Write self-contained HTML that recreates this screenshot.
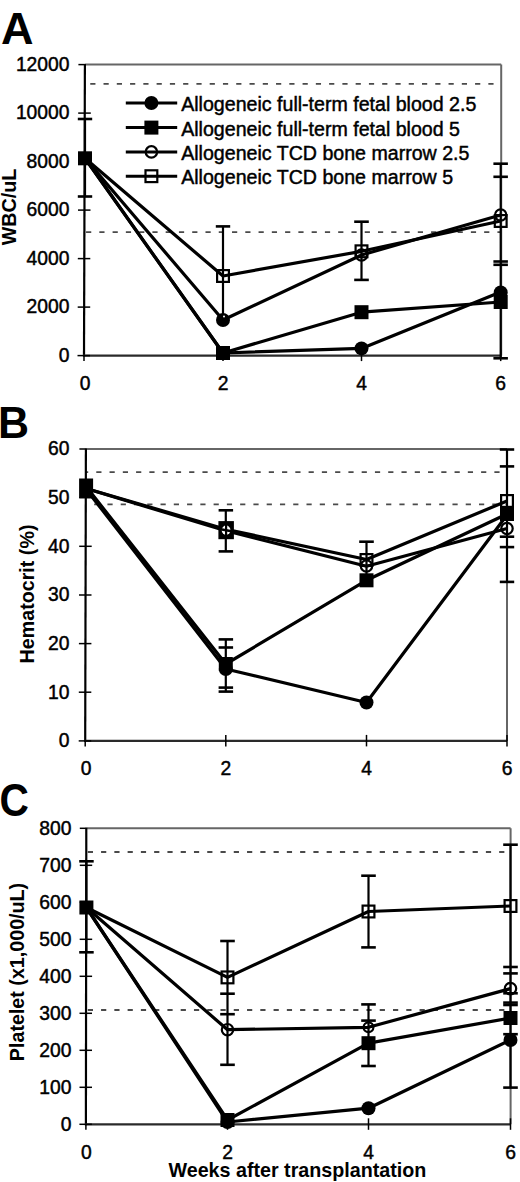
<!DOCTYPE html>
<html><head><meta charset="utf-8"><style>
html,body{margin:0;padding:0;background:#fff;width:520px;height:1182px;overflow:hidden}
svg{display:block;font-family:"Liberation Sans", sans-serif}
</style></head><body>
<svg width="520" height="1182" viewBox="0 0 520 1182" font-family='"Liberation Sans", sans-serif'>
<rect width="520" height="1182" fill="#fff"/>
<line x1="84.5" y1="83.8" x2="500.2" y2="83.8" stroke="#4a4a4a" stroke-width="1.8" stroke-dasharray="5.2,8.07" stroke-dashoffset="7.52"/>
<line x1="84.5" y1="232.2" x2="500.2" y2="232.2" stroke="#4a4a4a" stroke-width="1.8" stroke-dasharray="5.2,8.07" stroke-dashoffset="11.72"/>
<line x1="84.9" y1="64.6" x2="501.2" y2="64.6" stroke="#666" stroke-width="2" />
<line x1="501.2" y1="64.6" x2="501.2" y2="355.6" stroke="#666" stroke-width="2" />
<line x1="84.9" y1="64.1" x2="84.0" y2="356.6" stroke="#000" stroke-width="2.2" />
<line x1="83.0" y1="355.6" x2="501.2" y2="355.6" stroke="#2a2a2a" stroke-width="2.2" />
<line x1="77.5" y1="355.6" x2="90.0" y2="355.6" stroke="#000" stroke-width="1.5" />
<text x="69.5" y="361.9" font-size="19.3" text-anchor="end" font-weight="normal"  stroke="#000" stroke-width="0.45">0</text>
<line x1="77.7" y1="307.1" x2="90.2" y2="307.1" stroke="#000" stroke-width="1.5" />
<text x="69.5" y="313.4" font-size="19.3" text-anchor="end" font-weight="normal"  stroke="#000" stroke-width="0.45">2000</text>
<line x1="77.8" y1="258.6" x2="90.3" y2="258.6" stroke="#000" stroke-width="1.5" />
<text x="69.5" y="264.9" font-size="19.3" text-anchor="end" font-weight="normal"  stroke="#000" stroke-width="0.45">4000</text>
<line x1="78.0" y1="210.1" x2="90.5" y2="210.1" stroke="#000" stroke-width="1.5" />
<text x="69.5" y="216.4" font-size="19.3" text-anchor="end" font-weight="normal"  stroke="#000" stroke-width="0.45">6000</text>
<line x1="78.1" y1="161.6" x2="90.6" y2="161.6" stroke="#000" stroke-width="1.5" />
<text x="69.5" y="167.9" font-size="19.3" text-anchor="end" font-weight="normal"  stroke="#000" stroke-width="0.45">8000</text>
<line x1="78.2" y1="113.1" x2="90.8" y2="113.1" stroke="#000" stroke-width="1.5" />
<text x="69.5" y="119.4" font-size="19.3" text-anchor="end" font-weight="normal"  stroke="#000" stroke-width="0.45">10000</text>
<line x1="78.4" y1="64.6" x2="84.9" y2="64.6" stroke="#000" stroke-width="1.5" />
<text x="69.5" y="70.9" font-size="19.3" text-anchor="end" font-weight="normal"  stroke="#000" stroke-width="0.45">12000</text>
<line x1="84.0" y1="355.6" x2="84.0" y2="361.1" stroke="#000" stroke-width="1.5" />
<text x="85.0" y="389.9" font-size="19.3" text-anchor="middle" font-weight="normal"  stroke="#000" stroke-width="0.45">0</text>
<line x1="223.0" y1="349.6" x2="223.0" y2="361.1" stroke="#000" stroke-width="1.5" />
<text x="223.0" y="389.9" font-size="19.3" text-anchor="middle" font-weight="normal"  stroke="#000" stroke-width="0.45">2</text>
<line x1="361.5" y1="349.6" x2="361.5" y2="361.1" stroke="#000" stroke-width="1.5" />
<text x="361.5" y="389.9" font-size="19.3" text-anchor="middle" font-weight="normal"  stroke="#000" stroke-width="0.45">4</text>
<line x1="500.7" y1="349.6" x2="500.7" y2="361.1" stroke="#000" stroke-width="1.5" />
<text x="500.7" y="389.9" font-size="19.3" text-anchor="middle" font-weight="normal"  stroke="#000" stroke-width="0.45">6</text>
<line x1="85.5" y1="472.2" x2="506.0" y2="472.2" stroke="#4a4a4a" stroke-width="1.8" stroke-dasharray="5.2,8.07" stroke-dashoffset="2.50"/>
<line x1="85.5" y1="504.3" x2="506.0" y2="504.3" stroke="#4a4a4a" stroke-width="1.8" stroke-dasharray="5.2,8.07" stroke-dashoffset="4.60"/>
<line x1="85.9" y1="449.0" x2="507.0" y2="449.0" stroke="#666" stroke-width="2" />
<line x1="507.0" y1="449.0" x2="507.0" y2="740.9" stroke="#666" stroke-width="2" />
<line x1="85.9" y1="448.5" x2="85.2" y2="741.9" stroke="#000" stroke-width="2.2" />
<line x1="84.2" y1="740.9" x2="507.0" y2="740.9" stroke="#2a2a2a" stroke-width="2.2" />
<line x1="78.7" y1="740.9" x2="91.2" y2="740.9" stroke="#000" stroke-width="1.5" />
<text x="69.5" y="747.2" font-size="19.3" text-anchor="end" font-weight="normal"  stroke="#000" stroke-width="0.45">0</text>
<line x1="78.8" y1="692.2" x2="91.3" y2="692.2" stroke="#000" stroke-width="1.5" />
<text x="69.5" y="698.5" font-size="19.3" text-anchor="end" font-weight="normal"  stroke="#000" stroke-width="0.45">10</text>
<line x1="78.9" y1="643.6" x2="91.4" y2="643.6" stroke="#000" stroke-width="1.5" />
<text x="69.5" y="649.9" font-size="19.3" text-anchor="end" font-weight="normal"  stroke="#000" stroke-width="0.45">20</text>
<line x1="79.0" y1="595.0" x2="91.5" y2="595.0" stroke="#000" stroke-width="1.5" />
<text x="69.5" y="601.2" font-size="19.3" text-anchor="end" font-weight="normal"  stroke="#000" stroke-width="0.45">30</text>
<line x1="79.2" y1="546.3" x2="91.7" y2="546.3" stroke="#000" stroke-width="1.5" />
<text x="69.5" y="552.6" font-size="19.3" text-anchor="end" font-weight="normal"  stroke="#000" stroke-width="0.45">40</text>
<line x1="79.3" y1="497.6" x2="91.8" y2="497.6" stroke="#000" stroke-width="1.5" />
<text x="69.5" y="503.9" font-size="19.3" text-anchor="end" font-weight="normal"  stroke="#000" stroke-width="0.45">50</text>
<line x1="79.4" y1="449.0" x2="85.9" y2="449.0" stroke="#000" stroke-width="1.5" />
<text x="69.5" y="455.3" font-size="19.3" text-anchor="end" font-weight="normal"  stroke="#000" stroke-width="0.45">60</text>
<line x1="85.2" y1="740.9" x2="85.2" y2="746.4" stroke="#000" stroke-width="1.5" />
<text x="86.1" y="775.2" font-size="19.3" text-anchor="middle" font-weight="normal"  stroke="#000" stroke-width="0.45">0</text>
<line x1="225.8" y1="734.9" x2="225.8" y2="746.4" stroke="#000" stroke-width="1.5" />
<text x="225.8" y="775.2" font-size="19.3" text-anchor="middle" font-weight="normal"  stroke="#000" stroke-width="0.45">2</text>
<line x1="366.5" y1="734.9" x2="366.5" y2="746.4" stroke="#000" stroke-width="1.5" />
<text x="366.5" y="775.2" font-size="19.3" text-anchor="middle" font-weight="normal"  stroke="#000" stroke-width="0.45">4</text>
<line x1="507.0" y1="734.9" x2="507.0" y2="746.4" stroke="#000" stroke-width="1.5" />
<text x="507.0" y="775.2" font-size="19.3" text-anchor="middle" font-weight="normal"  stroke="#000" stroke-width="0.45">6</text>
<line x1="86.1" y1="852.0" x2="509.6" y2="852.0" stroke="#4a4a4a" stroke-width="1.8" stroke-dasharray="5.2,8.07" stroke-dashoffset="11.57"/>
<line x1="86.1" y1="1010.0" x2="509.6" y2="1010.0" stroke="#4a4a4a" stroke-width="1.8" stroke-dasharray="5.2,8.07" stroke-dashoffset="11.57"/>
<line x1="86.3" y1="828.3" x2="510.6" y2="828.3" stroke="#666" stroke-width="2" />
<line x1="510.6" y1="828.3" x2="510.6" y2="1124.3" stroke="#666" stroke-width="2" />
<line x1="86.3" y1="827.8" x2="85.9" y2="1125.3" stroke="#000" stroke-width="2.2" />
<line x1="84.9" y1="1124.3" x2="510.6" y2="1124.3" stroke="#2a2a2a" stroke-width="2.2" />
<line x1="79.4" y1="1124.3" x2="91.9" y2="1124.3" stroke="#000" stroke-width="1.5" />
<text x="71.5" y="1130.6" font-size="19.3" text-anchor="end" font-weight="normal"  stroke="#000" stroke-width="0.45">0</text>
<line x1="79.5" y1="1087.3" x2="92.0" y2="1087.3" stroke="#000" stroke-width="1.5" />
<text x="71.5" y="1093.6" font-size="19.3" text-anchor="end" font-weight="normal"  stroke="#000" stroke-width="0.45">100</text>
<line x1="79.5" y1="1050.3" x2="92.0" y2="1050.3" stroke="#000" stroke-width="1.5" />
<text x="71.5" y="1056.6" font-size="19.3" text-anchor="end" font-weight="normal"  stroke="#000" stroke-width="0.45">200</text>
<line x1="79.5" y1="1013.3" x2="92.0" y2="1013.3" stroke="#000" stroke-width="1.5" />
<text x="71.5" y="1019.6" font-size="19.3" text-anchor="end" font-weight="normal"  stroke="#000" stroke-width="0.45">300</text>
<line x1="79.6" y1="976.3" x2="92.1" y2="976.3" stroke="#000" stroke-width="1.5" />
<text x="71.5" y="982.6" font-size="19.3" text-anchor="end" font-weight="normal"  stroke="#000" stroke-width="0.45">400</text>
<line x1="79.7" y1="939.3" x2="92.2" y2="939.3" stroke="#000" stroke-width="1.5" />
<text x="71.5" y="945.6" font-size="19.3" text-anchor="end" font-weight="normal"  stroke="#000" stroke-width="0.45">500</text>
<line x1="79.7" y1="902.3" x2="92.2" y2="902.3" stroke="#000" stroke-width="1.5" />
<text x="71.5" y="908.6" font-size="19.3" text-anchor="end" font-weight="normal"  stroke="#000" stroke-width="0.45">600</text>
<line x1="79.8" y1="865.3" x2="92.2" y2="865.3" stroke="#000" stroke-width="1.5" />
<text x="71.5" y="871.6" font-size="19.3" text-anchor="end" font-weight="normal"  stroke="#000" stroke-width="0.45">700</text>
<line x1="79.8" y1="828.3" x2="86.3" y2="828.3" stroke="#000" stroke-width="1.5" />
<text x="71.5" y="834.6" font-size="19.3" text-anchor="end" font-weight="normal"  stroke="#000" stroke-width="0.45">800</text>
<line x1="85.9" y1="1124.3" x2="85.9" y2="1129.8" stroke="#000" stroke-width="1.5" />
<text x="86.4" y="1158.6" font-size="19.3" text-anchor="middle" font-weight="normal"  stroke="#000" stroke-width="0.45">0</text>
<line x1="227.5" y1="1118.3" x2="227.5" y2="1129.8" stroke="#000" stroke-width="1.5" />
<text x="227.5" y="1158.6" font-size="19.3" text-anchor="middle" font-weight="normal"  stroke="#000" stroke-width="0.45">2</text>
<line x1="368.5" y1="1118.3" x2="368.5" y2="1129.8" stroke="#000" stroke-width="1.5" />
<text x="368.5" y="1158.6" font-size="19.3" text-anchor="middle" font-weight="normal"  stroke="#000" stroke-width="0.45">4</text>
<line x1="510.5" y1="1118.3" x2="510.5" y2="1129.8" stroke="#000" stroke-width="1.5" />
<text x="510.5" y="1158.6" font-size="19.3" text-anchor="middle" font-weight="normal"  stroke="#000" stroke-width="0.45">6</text>
<text transform="translate(0.9,44.4) scale(0.98,0.97)" font-size="46" font-weight="bold">A</text>
<text transform="translate(-2.0,438.2) scale(0.935,0.965)" font-size="46" font-weight="bold">B</text>
<text transform="translate(-0.5,816.4) scale(0.885,1)" font-size="46" font-weight="bold">C</text>
<text transform="translate(16.3,207) rotate(-90)" font-size="19.7" font-weight="bold" text-anchor="middle">WBC/uL</text>
<text transform="translate(33.8,594) rotate(-90)" font-size="19.7" font-weight="bold" text-anchor="middle">Hematocrit (%)</text>
<text transform="translate(24,972) rotate(-90)" font-size="19.7" font-weight="bold" text-anchor="middle">Platelet (x1,000/uL)</text>
<text x="297.4" y="1177.1" font-size="19.7" text-anchor="middle" font-weight="bold" >Weeks after transplantation</text>
<line x1="125.8" y1="103.0" x2="177.2" y2="103.0" stroke="#000" stroke-width="3" />
<circle cx="151.4" cy="103.0" r="7.0" fill="#000"/>
<text x="181.2" y="111.0" font-size="19.6" text-anchor="start" font-weight="normal"  stroke="#000" stroke-width="0.45">Allogeneic full-term fetal blood 2.5</text>
<line x1="125.8" y1="127.6" x2="177.2" y2="127.6" stroke="#000" stroke-width="3" />
<rect x="144.4" y="120.6" width="14" height="14" fill="#000"/>
<text x="181.2" y="135.6" font-size="19.6" text-anchor="start" font-weight="normal"  stroke="#000" stroke-width="0.45">Allogeneic full-term fetal blood 5</text>
<line x1="125.8" y1="151.9" x2="177.2" y2="151.9" stroke="#000" stroke-width="3" />
<circle cx="151.4" cy="151.9" r="5.7" fill="none" stroke="#000" stroke-width="2.2"/>
<text x="181.2" y="159.9" font-size="19.6" text-anchor="start" font-weight="normal"  stroke="#000" stroke-width="0.45">Allogeneic TCD bone marrow 2.5</text>
<line x1="125.8" y1="176.2" x2="177.2" y2="176.2" stroke="#000" stroke-width="3" />
<rect x="145.5" y="170.3" width="11.8" height="11.8" fill="none" stroke="#000" stroke-width="2.2"/>
<text x="181.2" y="184.2" font-size="19.6" text-anchor="start" font-weight="normal"  stroke="#000" stroke-width="0.45">Allogeneic TCD bone marrow 5</text>
<polyline points="85.0,158.3 223.0,353.0 361.5,348.4 500.7,292.0" fill="none" stroke="#000" stroke-width="3.2" stroke-linejoin="round"/>
<polyline points="85.0,158.3 223.0,353.0 361.5,312.2 500.7,302.0" fill="none" stroke="#000" stroke-width="3.2" stroke-linejoin="round"/>
<polyline points="85.0,158.3 223.0,320.0 361.5,255.0 500.7,215.0" fill="none" stroke="#000" stroke-width="3.2" stroke-linejoin="round"/>
<polyline points="85.0,158.3 223.0,276.0 361.5,251.3 500.7,221.0" fill="none" stroke="#000" stroke-width="3.2" stroke-linejoin="round"/>
<line x1="85.0" y1="119.0" x2="85.0" y2="196.5" stroke="#000" stroke-width="2.2" />
<line x1="77.8" y1="119.0" x2="92.2" y2="119.0" stroke="#000" stroke-width="2.6" />
<line x1="77.8" y1="196.5" x2="92.2" y2="196.5" stroke="#000" stroke-width="2.6" />
<line x1="223.0" y1="226.4" x2="223.0" y2="320.0" stroke="#000" stroke-width="2.2" />
<line x1="215.8" y1="226.4" x2="230.2" y2="226.4" stroke="#000" stroke-width="2.6" />
<line x1="361.5" y1="221.7" x2="361.5" y2="279.9" stroke="#000" stroke-width="2.2" />
<line x1="354.2" y1="221.7" x2="368.8" y2="221.7" stroke="#000" stroke-width="2.6" />
<line x1="354.2" y1="279.9" x2="368.8" y2="279.9" stroke="#000" stroke-width="2.6" />
<line x1="500.7" y1="163.7" x2="500.7" y2="358.3" stroke="#000" stroke-width="2.2" />
<line x1="493.4" y1="163.7" x2="507.9" y2="163.7" stroke="#000" stroke-width="2.6" />
<line x1="493.4" y1="176.8" x2="507.9" y2="176.8" stroke="#000" stroke-width="2.6" />
<line x1="493.4" y1="261.5" x2="507.9" y2="261.5" stroke="#000" stroke-width="2.6" />
<line x1="493.4" y1="264.8" x2="507.9" y2="264.8" stroke="#000" stroke-width="2.6" />
<line x1="493.4" y1="358.3" x2="507.9" y2="358.3" stroke="#000" stroke-width="2.6" />
<rect x="78.0" y="151.3" width="14" height="14" fill="#000"/>
<circle cx="223.0" cy="320.0" r="7.0" fill="#000"/>
<circle cx="224.0" cy="316.5" r="1" fill="#fff"/>
<rect x="216.0" y="346.0" width="14" height="14" fill="#000"/>
<rect x="217.1" y="270.1" width="11.8" height="11.8" fill="none" stroke="#000" stroke-width="2.2"/>
<rect x="355.6" y="245.4" width="11.8" height="11.8" fill="none" stroke="#000" stroke-width="2.2"/>
<circle cx="361.5" cy="255.0" r="5.7" fill="none" stroke="#000" stroke-width="2.2"/>
<rect x="354.5" y="305.2" width="14" height="14" fill="#000"/>
<circle cx="361.5" cy="348.4" r="7.0" fill="#000"/>
<circle cx="500.7" cy="215.0" r="5.7" fill="none" stroke="#000" stroke-width="2.2"/>
<rect x="494.8" y="215.1" width="11.8" height="11.8" fill="none" stroke="#000" stroke-width="2.2"/>
<circle cx="500.7" cy="292.5" r="7.0" fill="#000"/>
<rect x="493.7" y="295.0" width="14" height="14" fill="#000"/>
<polyline points="86.1,489.2 225.8,669.0 366.5,702.5 507.0,515.0" fill="none" stroke="#000" stroke-width="3.2" stroke-linejoin="round"/>
<polyline points="86.1,486.6 225.8,664.0 366.5,580.3 507.0,514.0" fill="none" stroke="#000" stroke-width="3.2" stroke-linejoin="round"/>
<polyline points="86.1,488.5 225.8,530.8 366.5,566.3 507.0,528.5" fill="none" stroke="#000" stroke-width="3.2" stroke-linejoin="round"/>
<polyline points="86.1,488.5 225.8,529.2 366.5,559.5 507.0,501.0" fill="none" stroke="#000" stroke-width="3.2" stroke-linejoin="round"/>
<line x1="225.8" y1="510.3" x2="225.8" y2="551.4" stroke="#000" stroke-width="2.2" />
<line x1="218.6" y1="510.3" x2="233.1" y2="510.3" stroke="#000" stroke-width="2.6" />
<line x1="218.6" y1="551.4" x2="233.1" y2="551.4" stroke="#000" stroke-width="2.6" />
<line x1="225.8" y1="639.4" x2="225.8" y2="691.6" stroke="#000" stroke-width="2.2" />
<line x1="218.6" y1="639.4" x2="233.1" y2="639.4" stroke="#000" stroke-width="2.6" />
<line x1="218.6" y1="647.5" x2="233.1" y2="647.5" stroke="#000" stroke-width="2.6" />
<line x1="218.6" y1="687.6" x2="233.1" y2="687.6" stroke="#000" stroke-width="2.6" />
<line x1="218.6" y1="691.6" x2="233.1" y2="691.6" stroke="#000" stroke-width="2.6" />
<line x1="366.5" y1="541.7" x2="366.5" y2="580.0" stroke="#000" stroke-width="2.2" />
<line x1="359.2" y1="541.7" x2="373.8" y2="541.7" stroke="#000" stroke-width="2.6" />
<line x1="507.0" y1="449.5" x2="507.0" y2="582.0" stroke="#000" stroke-width="2.2" />
<line x1="499.8" y1="449.5" x2="514.2" y2="449.5" stroke="#000" stroke-width="2.6" />
<line x1="499.8" y1="466.4" x2="514.2" y2="466.4" stroke="#000" stroke-width="2.6" />
<line x1="499.8" y1="536.7" x2="514.2" y2="536.7" stroke="#000" stroke-width="2.6" />
<line x1="499.8" y1="547.1" x2="514.2" y2="547.1" stroke="#000" stroke-width="2.6" />
<line x1="499.8" y1="581.9" x2="514.2" y2="581.9" stroke="#000" stroke-width="2.6" />
<rect x="79.1" y="478.5" width="14" height="19.7" fill="#000"/>
<rect x="218.4" y="521.1" width="15.5" height="18.1" fill="#000"/>
<ellipse cx="226.1" cy="530.2" rx="4.4" ry="4.6" fill="#fff"/>
<line x1="226.1" y1="524.0" x2="226.1" y2="537.0" stroke="#000" stroke-width="2.2" />
<line x1="220.5" y1="529.3" x2="231.7" y2="531.3" stroke="#000" stroke-width="2.6" />
<rect x="218.8" y="657.0" width="14" height="14" fill="#000"/>
<circle cx="225.8" cy="669.0" r="7.0" fill="#000"/>
<rect x="360.6" y="554.1" width="11.8" height="11.8" fill="none" stroke="#000" stroke-width="2.2"/>
<circle cx="366.5" cy="566.0" r="5.7" fill="none" stroke="#000" stroke-width="2.2"/>
<rect x="359.5" y="573.3" width="14" height="14" fill="#000"/>
<circle cx="366.5" cy="702.5" r="7.0" fill="#000"/>
<rect x="501.1" y="495.1" width="11.8" height="11.8" fill="none" stroke="#000" stroke-width="2.2"/>
<rect x="500.0" y="507.0" width="14" height="14" fill="#000"/>
<circle cx="507.0" cy="528.5" r="5.7" fill="none" stroke="#000" stroke-width="2.2"/>
<polyline points="86.4,907.5 227.5,1122.0 368.5,1108.2 510.5,1040.0" fill="none" stroke="#000" stroke-width="3.2" stroke-linejoin="round"/>
<polyline points="86.4,907.5 227.5,1120.0 368.5,1043.2 510.5,1018.0" fill="none" stroke="#000" stroke-width="3.2" stroke-linejoin="round"/>
<polyline points="86.4,907.5 227.5,1029.7 368.5,1027.3 510.5,988.6" fill="none" stroke="#000" stroke-width="3.2" stroke-linejoin="round"/>
<polyline points="86.4,907.5 227.5,977.4 368.5,911.5 510.5,906.0" fill="none" stroke="#000" stroke-width="3.2" stroke-linejoin="round"/>
<line x1="86.4" y1="861.3" x2="86.4" y2="952.3" stroke="#000" stroke-width="2.2" />
<line x1="79.2" y1="861.3" x2="93.7" y2="861.3" stroke="#000" stroke-width="2.6" />
<line x1="79.2" y1="952.3" x2="93.7" y2="952.3" stroke="#000" stroke-width="2.6" />
<line x1="227.5" y1="941.0" x2="227.5" y2="1064.8" stroke="#000" stroke-width="2.2" />
<line x1="220.2" y1="941.0" x2="234.8" y2="941.0" stroke="#000" stroke-width="2.6" />
<line x1="220.2" y1="993.7" x2="234.8" y2="993.7" stroke="#000" stroke-width="2.6" />
<line x1="220.2" y1="1014.2" x2="234.8" y2="1014.2" stroke="#000" stroke-width="2.6" />
<line x1="220.2" y1="1064.8" x2="234.8" y2="1064.8" stroke="#000" stroke-width="2.6" />
<line x1="368.5" y1="875.7" x2="368.5" y2="947.4" stroke="#000" stroke-width="2.2" />
<line x1="361.2" y1="875.7" x2="375.8" y2="875.7" stroke="#000" stroke-width="2.6" />
<line x1="361.2" y1="947.4" x2="375.8" y2="947.4" stroke="#000" stroke-width="2.6" />
<line x1="368.5" y1="1004.4" x2="368.5" y2="1066.0" stroke="#000" stroke-width="2.2" />
<line x1="361.2" y1="1004.4" x2="375.8" y2="1004.4" stroke="#000" stroke-width="2.6" />
<line x1="361.2" y1="1020.6" x2="375.8" y2="1020.6" stroke="#000" stroke-width="2.6" />
<line x1="361.2" y1="1066.0" x2="375.8" y2="1066.0" stroke="#000" stroke-width="2.6" />
<line x1="510.5" y1="844.7" x2="510.5" y2="1087.6" stroke="#000" stroke-width="2.2" />
<line x1="503.2" y1="844.7" x2="517.8" y2="844.7" stroke="#000" stroke-width="2.6" />
<line x1="503.2" y1="967.0" x2="517.8" y2="967.0" stroke="#000" stroke-width="2.6" />
<line x1="503.2" y1="973.4" x2="517.8" y2="973.4" stroke="#000" stroke-width="2.6" />
<line x1="503.2" y1="993.3" x2="517.8" y2="993.3" stroke="#000" stroke-width="2.6" />
<line x1="503.2" y1="1002.6" x2="517.8" y2="1002.6" stroke="#000" stroke-width="2.6" />
<line x1="503.2" y1="1005.0" x2="517.8" y2="1005.0" stroke="#000" stroke-width="2.6" />
<line x1="503.2" y1="1034.2" x2="517.8" y2="1034.2" stroke="#000" stroke-width="2.6" />
<line x1="503.2" y1="1087.6" x2="517.8" y2="1087.6" stroke="#000" stroke-width="2.6" />
<rect x="79.4" y="900.5" width="14" height="14" fill="#000"/>
<rect x="221.6" y="971.5" width="11.8" height="11.8" fill="none" stroke="#000" stroke-width="2.2"/>
<circle cx="227.5" cy="1029.7" r="5.7" fill="none" stroke="#000" stroke-width="2.2"/>
<rect x="220.5" y="1113.0" width="14" height="14" fill="#000"/>
<circle cx="227.5" cy="1122.0" r="7.0" fill="#000"/>
<rect x="362.6" y="905.6" width="11.8" height="11.8" fill="none" stroke="#000" stroke-width="2.2"/>
<circle cx="368.5" cy="1027.3" r="4.9" fill="none" stroke="#000" stroke-width="2.2"/>
<rect x="361.5" y="1036.2" width="14" height="14" fill="#000"/>
<circle cx="368.5" cy="1108.2" r="7.0" fill="#000"/>
<rect x="504.6" y="900.1" width="11.8" height="11.8" fill="none" stroke="#000" stroke-width="2.2"/>
<circle cx="510.5" cy="988.6" r="5.7" fill="none" stroke="#000" stroke-width="2.2"/>
<rect x="503.5" y="1011.0" width="14" height="14" fill="#000"/>
<circle cx="510.5" cy="1040.0" r="7.0" fill="#000"/>
</svg>
</body></html>
